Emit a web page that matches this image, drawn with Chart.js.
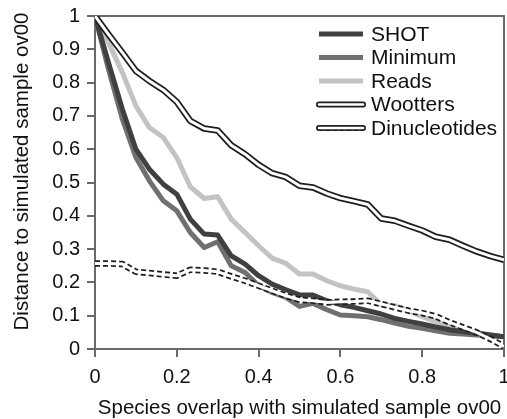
<!DOCTYPE html>
<html><head><meta charset="utf-8">
<script src="https://cdn.jsdelivr.net/npm/chart.js@4.4.1/dist/chart.umd.min.js"></script>
<style>html,body{margin:0;padding:0;background:#fff;}</style>
</head><body>
<canvas id="c" width="507" height="419" style="width:507px;height:419px;display:block"></canvas>
<script>
// x values: species overlap with simulated sample ov00
const overlap = [0, 0.033, 0.067, 0.1, 0.133, 0.167, 0.2, 0.233, 0.267, 0.3, 0.333,
  0.367, 0.4, 0.433, 0.467, 0.5, 0.533, 0.567, 0.6, 0.633, 0.667,
  0.7, 0.733, 0.767, 0.8, 0.833, 0.867, 0.9, 0.933, 0.967, 1];
const shot = [1.0, 0.86, 0.72, 0.60, 0.54, 0.495, 0.465, 0.39, 0.345, 0.342, 0.28,
  0.255, 0.22, 0.195, 0.178, 0.163, 0.162, 0.145, 0.133, 0.125, 0.115,
  0.105, 0.092, 0.083, 0.075, 0.066, 0.058, 0.052, 0.047, 0.042, 0.037];
const minimum = [1.0, 0.84, 0.69, 0.575, 0.505, 0.445, 0.415, 0.35, 0.305, 0.322, 0.25,
  0.23, 0.19, 0.17, 0.155, 0.128, 0.137, 0.118, 0.102, 0.1, 0.097,
  0.088, 0.078, 0.068, 0.062, 0.055, 0.047, 0.045, 0.042, 0.04, 0.037];
const reads = [1.0, 0.92, 0.83, 0.73, 0.665, 0.635, 0.575, 0.487, 0.452, 0.457, 0.39,
  0.35, 0.31, 0.273, 0.257, 0.225, 0.225, 0.205, 0.19, 0.18, 0.172,
  0.133, 0.13, 0.115, 0.097, 0.082, 0.067, 0.058, 0.05, 0.043, 0.037];
const wootters = [1.0, 0.945, 0.89, 0.835, 0.805, 0.778, 0.742, 0.685, 0.662, 0.656, 0.612,
  0.585, 0.553, 0.528, 0.516, 0.49, 0.485, 0.467, 0.453, 0.444, 0.434,
  0.392, 0.385, 0.37, 0.356, 0.337, 0.328, 0.31, 0.293, 0.279, 0.268];
const dinucleotides = [0.257, 0.257, 0.255, 0.232, 0.228, 0.224, 0.22, 0.238, 0.236, 0.232, 0.218,
  0.205, 0.19, 0.175, 0.16, 0.148, 0.145, 0.14, 0.142, 0.143, 0.145,
  0.135, 0.125, 0.115, 0.108, 0.098, 0.08, 0.065, 0.05, 0.03, 0.008];
const xTicks = [0, 0.2, 0.4, 0.6, 0.8, 1];
const xTickLabels = ['0', '0.2', '0.4', '0.6', '0.8', '1'];
const yTickLabels = ['0', '0.1', '0.2', '0.3', '0.4', '0.5', '0.6', '0.7', '0.8', '0.9', '1'];
const seriesNames = ['SHOT', 'Minimum', 'Reads', 'Wootters', 'Dinucleotides'];
const xTitle = 'Species overlap with simulated sample ov00';
const yTitle = 'Distance to simulated sample ov00';

const FONT = "'Liberation Sans', Arial, Helvetica, sans-serif";
const AX = '#6a6a6a';
const pts = ys => overlap.map((x, i) => ({x: x, y: ys[i]}));
const base = {pointRadius: 0, tension: 0, fill: false, borderJoinStyle: 'round', borderCapStyle: 'butt'};

const styles = {
  SHOT: {color: '#404040', width: 5},
  Minimum: {color: '#707070', width: 5},
  Reads: {color: '#c3c3c3', width: 5},
  Wootters: {color: '#1e1e1e', width: 6.5, inner: 3},
  Dinucleotides: {color: '#1e1e1e', width: 6.5, inner: 3, dash: [5, 3]}
};

const datasets = [
  Object.assign({}, base, {label: '_inner_d', data: pts(dinucleotides), borderColor: '#fff', borderWidth: styles.Dinucleotides.inner, order: 0}),
  Object.assign({}, base, {label: 'Dinucleotides', data: pts(dinucleotides), borderColor: styles.Dinucleotides.color, borderWidth: styles.Dinucleotides.width, borderDash: styles.Dinucleotides.dash, order: 1}),
  Object.assign({}, base, {label: '_inner_w', data: pts(wootters), borderColor: '#fff', borderWidth: styles.Wootters.inner, order: 2}),
  Object.assign({}, base, {label: 'Wootters', data: pts(wootters), borderColor: styles.Wootters.color, borderWidth: styles.Wootters.width, order: 3}),
  Object.assign({}, base, {label: 'SHOT', data: pts(shot), borderColor: styles.SHOT.color, borderWidth: 5, order: 4}),
  Object.assign({}, base, {label: 'Minimum', data: pts(minimum), borderColor: styles.Minimum.color, borderWidth: 5, order: 5}),
  Object.assign({}, base, {label: 'Reads', data: pts(reads), borderColor: styles.Reads.color, borderWidth: 5, order: 6})
];

const framePlugin = {
  id: 'frame',
  beforeDatasetsDraw(chart) {
    const {ctx, chartArea: a} = chart;
    ctx.save();
    ctx.strokeStyle = AX; ctx.lineWidth = 2;
    ctx.beginPath();
    ctx.moveTo(a.left, a.top); ctx.lineTo(a.right, a.top); ctx.lineTo(a.right, a.bottom);
    ctx.stroke();
    ctx.restore();
  },
  afterDraw(chart) {
    // y axis title, centred slightly above the axis midpoint as in the reference
    const {ctx, chartArea: a} = chart;
    ctx.save();
    ctx.translate(22, (a.top + a.bottom) / 2 - 11);
    ctx.rotate(-Math.PI / 2);
    ctx.font = '20.5px ' + FONT;
    ctx.fillStyle = '#111';
    ctx.textAlign = 'center';
    ctx.textBaseline = 'middle';
    ctx.fillText(yTitle, 0, 0);
    ctx.restore();
  }
};

const legendPlugin = {
  id: 'insideLegend',
  afterDraw(chart) {
    const {ctx, chartArea: a} = chart;
    const x0 = a.left + 224, x1 = x0 + 44, tx = x1 + 8;
    let y = a.top + 18;
    const step = 23.5;
    ctx.save();
    ctx.font = '21px ' + FONT;
    ctx.textBaseline = 'middle';
    ctx.textAlign = 'left';
    seriesNames.forEach(name => {
      const s = styles[name];
      ctx.save();
      ctx.beginPath();
      ctx.lineCap = s.inner ? 'round' : 'butt';
      ctx.strokeStyle = s.color; ctx.lineWidth = s.inner ? 6 : s.width;
      if (s.dash) ctx.setLineDash([4, 3]);
      ctx.moveTo(x0, y); ctx.lineTo(x1, y); ctx.stroke();
      if (s.inner) {
        ctx.setLineDash([]);
        ctx.beginPath();
        ctx.strokeStyle = '#fff'; ctx.lineWidth = 2.6;
        ctx.moveTo(x0, y); ctx.lineTo(x1, y); ctx.stroke();
      }
      ctx.restore();
      ctx.fillStyle = '#111';
      ctx.fillText(name, tx, y + 1);
      y += step;
    });
    ctx.restore();
  }
};

new Chart(document.getElementById('c'), {
  type: 'line',
  data: {datasets: datasets},
  plugins: [framePlugin, legendPlugin],
  options: {
    responsive: false,
    devicePixelRatio: 1,
    animation: false,
    layout: {padding: {top: 16, right: 3, bottom: 0, left: 0}},
    plugins: {legend: {display: false}, tooltip: {enabled: false}},
    scales: {
      x: {
        type: 'linear', min: 0, max: 1,
        afterBuildTicks: s => { s.ticks = xTicks.map(v => ({value: v})); },
        afterFit: s => { s.height = 70; s.paddingLeft = 0; s.paddingRight = 0; },
        ticks: {
          font: {family: FONT, size: 20}, color: '#111', padding: 8, maxRotation: 0,
          callback: (v, i) => xTickLabels[i]
        },
        grid: {drawOnChartArea: false, drawTicks: true, tickLength: 8, color: AX, lineWidth: 2},
        border: {display: true, color: AX, width: 2},
        title: {display: true, text: xTitle,
          font: {family: FONT, size: 20.5, lineHeight: 1}, color: '#111', padding: {top: 0, bottom: 0}}
      },
      y: {
        type: 'linear', min: 0, max: 1,
        ticks: {
          stepSize: 0.1, font: {family: FONT, size: 20}, color: '#111', padding: 7,
          callback: (v, i) => yTickLabels[i]
        },
        afterFit: s => { s.width = 95; s.paddingTop = 0; s.paddingBottom = 0; },
        grid: {drawOnChartArea: false, drawTicks: true, tickLength: 8, color: AX, lineWidth: 2},
        border: {display: true, color: AX, width: 2},
        title: {display: false}
      }
    }
  }
});
</script>
</body></html>
